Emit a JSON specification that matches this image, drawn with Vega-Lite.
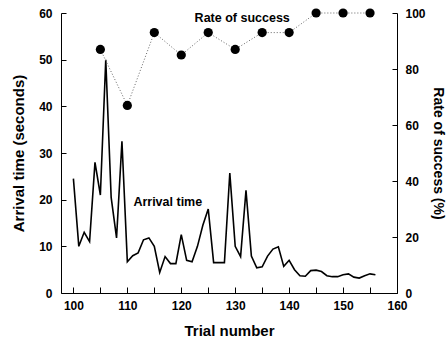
{
  "$schema": "https://vega.github.io/schema/vega-lite/v6.json",
  "width": 336,
  "height": 280,
  "autosize": {"type": "none"},
  "padding": {"left": 61, "top": 13, "right": 51, "bottom": 47},
  "background": "white",
  "config": {
    "view": {"stroke": null},
    "font": "Liberation Sans",
    "axis": {
      "grid": false,
      "domainColor": "black",
      "tickColor": "black",
      "labelColor": "black",
      "titleColor": "black",
      "labelFont": "Liberation Sans",
      "titleFont": "Liberation Sans",
      "labelFontWeight": "bold",
      "titleFontWeight": "bold",
      "labelFontSize": 12,
      "titleFontSize": 15,
      "domainWidth": 1,
      "tickWidth": 1
    }
  },
  "datasets": {
    "arrival": [
      {"trial": 100, "time": 24.5}, {"trial": 101, "time": 10}, {"trial": 102, "time": 13},
      {"trial": 103, "time": 11}, {"trial": 104, "time": 28}, {"trial": 105, "time": 21},
      {"trial": 106, "time": 50}, {"trial": 107, "time": 20.5}, {"trial": 108, "time": 11.8},
      {"trial": 109, "time": 32.5}, {"trial": 110, "time": 6.7}, {"trial": 111, "time": 8},
      {"trial": 112, "time": 8.6}, {"trial": 113, "time": 11.4}, {"trial": 114, "time": 11.8},
      {"trial": 115, "time": 10}, {"trial": 116, "time": 4.4}, {"trial": 117, "time": 7.8},
      {"trial": 118, "time": 6.3}, {"trial": 119, "time": 6.3}, {"trial": 120, "time": 12.5},
      {"trial": 121, "time": 7}, {"trial": 122, "time": 6.7}, {"trial": 123, "time": 10},
      {"trial": 124, "time": 14.5}, {"trial": 125, "time": 18}, {"trial": 126, "time": 6.5},
      {"trial": 127, "time": 6.5}, {"trial": 128, "time": 6.5}, {"trial": 129, "time": 25.7},
      {"trial": 130, "time": 10}, {"trial": 131, "time": 7.8}, {"trial": 132, "time": 22},
      {"trial": 133, "time": 7.9}, {"trial": 134, "time": 5.4}, {"trial": 135, "time": 5.6},
      {"trial": 136, "time": 7.9}, {"trial": 137, "time": 9.4}, {"trial": 138, "time": 9.9},
      {"trial": 139, "time": 5.7}, {"trial": 140, "time": 7}, {"trial": 141, "time": 5},
      {"trial": 142, "time": 3.7}, {"trial": 143, "time": 3.6}, {"trial": 144, "time": 4.8},
      {"trial": 145, "time": 4.9}, {"trial": 146, "time": 4.6}, {"trial": 147, "time": 3.7},
      {"trial": 148, "time": 3.5}, {"trial": 149, "time": 3.5}, {"trial": 150, "time": 3.9},
      {"trial": 151, "time": 4.1}, {"trial": 152, "time": 3.4}, {"trial": 153, "time": 3.2},
      {"trial": 154, "time": 3.7}, {"trial": 155, "time": 4.1}, {"trial": 156, "time": 3.9}
    ],
    "rate": [
      {"trial": 105, "rate": 87}, {"trial": 110, "rate": 67}, {"trial": 115, "rate": 93},
      {"trial": 120, "rate": 85}, {"trial": 125, "rate": 93}, {"trial": 130, "rate": 87},
      {"trial": 135, "rate": 93}, {"trial": 140, "rate": 93}, {"trial": 145, "rate": 100},
      {"trial": 150, "rate": 100}, {"trial": 155, "rate": 100}
    ]
  },
  "encoding": {
    "x": {
      "field": "trial",
      "type": "quantitative",
      "scale": {"domain": [97.7, 160], "nice": false, "zero": false},
      "axis": {
        "title": "Trial  number",
        "values": [100, 105, 110, 115, 120, 125, 130, 135, 140, 145, 150, 155, 160],
        "labelExpr": "datum.value % 10 === 0 ? datum.label : ''",
        "tickSize": -6,
        "labelPadding": 13,
        "titlePadding": 12,
        "labelFlush": false
      }
    }
  },
  "layer": [
    {
      "encoding": {
        "y": {
          "field": "time",
          "type": "quantitative",
          "scale": {"domain": [0, 60], "nice": false},
          "axis": {
            "orient": "left",
            "title": "Arrival time  (seconds)",
            "values": [0, 10, 20, 30, 40, 50, 60],
            "tickSize": -5,
            "labelPadding": 14,
            "titlePadding": 12,
            "labelFlush": false
          }
        }
      },
      "layer": [
        {
          "data": {"name": "arrival"},
          "mark": {"type": "line", "color": "black", "strokeWidth": 1.6}
        },
        {
          "data": {"values": [{"trial": 117.5, "time": 19.5, "label": "Arrival time"}]},
          "mark": {"type": "text", "font": "Liberation Sans", "fontWeight": "bold", "fontSize": 12.5, "color": "black", "align": "center", "baseline": "middle"},
          "encoding": {"text": {"field": "label"}}
        }
      ]
    },
    {
      "encoding": {
        "y": {
          "field": "rate",
          "type": "quantitative",
          "scale": {"domain": [0, 100], "nice": false},
          "axis": {
            "orient": "right",
            "title": "Rate of success  (%)",
            "values": [0, 20, 40, 60, 80, 100],
            "tickSize": -5,
            "labelPadding": 13,
            "titlePadding": 5,
            "titleFontSize": 14,
            "labelFlush": false
          }
        }
      },
      "layer": [
        {
          "data": {"name": "rate"},
          "mark": {"type": "line", "color": "#666666", "strokeWidth": 1, "strokeDash": [1, 2]}
        },
        {
          "data": {"name": "rate"},
          "mark": {"type": "point", "filled": true, "color": "black", "size": 85, "opacity": 1}
        },
        {
          "data": {"values": [{"trial": 131.3, "rate": 98.3, "label": "Rate of success"}]},
          "mark": {"type": "text", "font": "Liberation Sans", "fontWeight": "bold", "fontSize": 12.5, "color": "black", "align": "center", "baseline": "middle"},
          "encoding": {"text": {"field": "label"}}
        }
      ]
    }
  ],
  "resolve": {"scale": {"y": "independent"}}
}
